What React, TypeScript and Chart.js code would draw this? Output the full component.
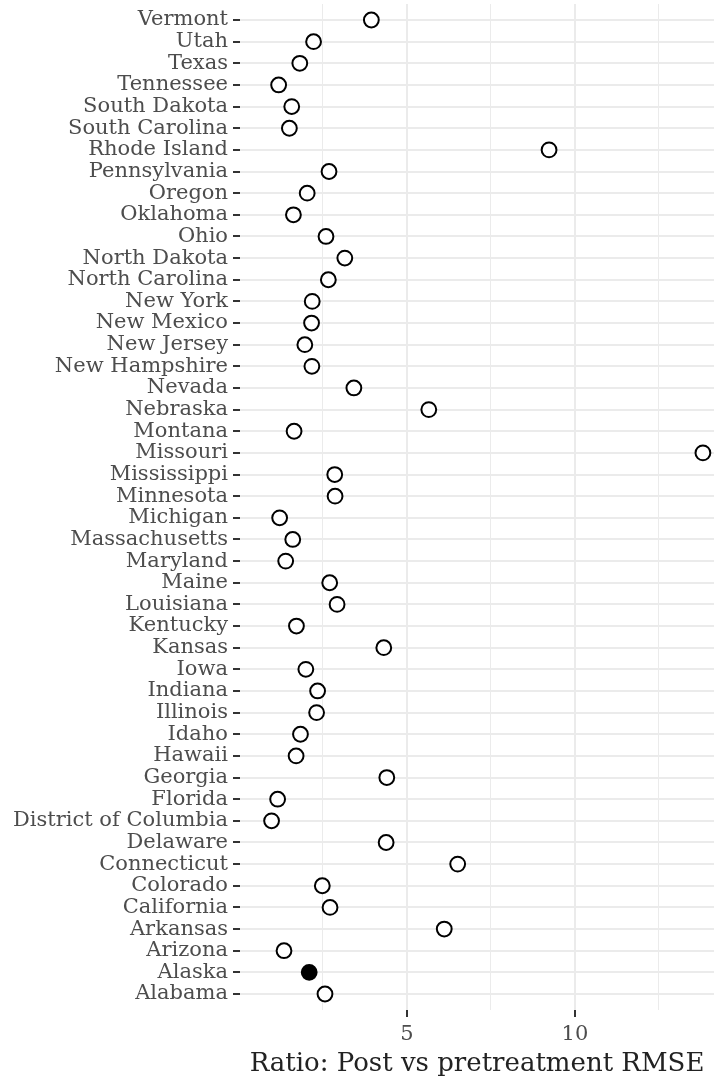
import React, { useEffect, useRef } from "react";
import { Chart, registerables } from "chart.js";

Chart.register(...registerables);

// Categories (bottom to top, as drawn)
const states: string[] = [
  "Alabama", "Alaska", "Arizona", "Arkansas", "California", "Colorado",
  "Connecticut", "Delaware", "District of Columbia", "Florida", "Georgia",
  "Hawaii", "Idaho", "Illinois", "Indiana", "Iowa", "Kansas", "Kentucky",
  "Louisiana", "Maine", "Maryland", "Massachusetts", "Michigan", "Minnesota",
  "Mississippi", "Missouri", "Montana", "Nebraska", "Nevada", "New Hampshire",
  "New Jersey", "New Mexico", "New York", "North Carolina", "North Dakota",
  "Ohio", "Oklahoma", "Oregon", "Pennsylvania", "Rhode Island",
  "South Carolina", "South Dakota", "Tennessee", "Texas", "Utah", "Vermont",
];

// Ratio: post vs pretreatment RMSE
const ratios: number[] = [
  2.56, 2.09, 1.34, 6.11, 2.71, 2.48,
  6.51, 4.38, 0.97, 1.15, 4.40,
  1.70, 1.83, 2.31, 2.34, 1.99, 4.31, 1.71,
  2.92, 2.70, 1.39, 1.60, 1.21, 2.86,
  2.85, 13.81, 1.64, 5.65, 3.42, 2.17,
  1.96, 2.16, 2.18, 2.66, 3.15,
  2.59, 1.62, 2.03, 2.68, 9.23,
  1.50, 1.57, 1.18, 1.81, 2.22, 3.94,
];

const treatedState = "Alaska";

const xTickValues: number[] = [2.5, 5, 7.5, 10, 12.5];
const xLabeledTicks: number[] = [5, 10];
const xTitle = "Ratio: Post vs pretreatment RMSE";

const FONT = "'DejaVu Serif', serif";

export default function App() {
  const ref = useRef<HTMLCanvasElement | null>(null);

  useEffect(() => {
    if (!ref.current) return;
    const points = states.map((s, i) => ({ x: ratios[i], y: i }));
    const chart = new Chart(ref.current, {
      type: "scatter",
      data: {
        datasets: [
          {
            data: points,
            pointRadius: 7.4,
            pointBorderWidth: 2,
            pointBorderColor: "#000000",
            pointBackgroundColor: states.map((s) =>
              s === treatedState ? "#000000" : "#ffffff"
            ),
            showLine: false,
            clip: false,
          },
        ],
      },
      options: {
        responsive: false,
        animation: false,
        layout: {
          autoPadding: false,
          padding: { top: 4, right: 0, bottom: 0, left: 0 },
        },
        plugins: {
          legend: { display: false },
          tooltip: { enabled: false },
        },
        scales: {
          x: {
            type: "linear",
            min: 0.03,
            max: 14.14,
            afterBuildTicks: (scale: any) => {
              scale.ticks = xTickValues.map((v) => ({ value: v }));
            },
            afterFit: (scale: any) => {
              scale.height = 73;
              scale.paddingLeft = 0;
              scale.paddingRight = 0;
            },
            border: { display: false },
            grid: {
              color: "#ebebeb",
              lineWidth: (ctx: any) =>
                ctx.tick && xLabeledTicks.includes(ctx.tick.value) ? 2 : 1,
              tickColor: (ctx: any) =>
                ctx.tick && xLabeledTicks.includes(ctx.tick.value)
                  ? "#333333"
                  : "rgba(0,0,0,0)",
              tickWidth: 2,
              tickLength: 7,
              drawTicks: true,
            },
            ticks: {
              autoSkip: false,
              maxRotation: 0,
              padding: 5,
              color: "#4d4d4d",
              font: { family: FONT, size: 21 },
              callback: (v: any) =>
                xLabeledTicks.includes(Number(v)) ? String(v) : "",
            },
            title: {
              display: true,
              text: xTitle,
              color: "#222222",
              font: { family: FONT, size: 26 },
              padding: { top: 0, bottom: 3 },
            },
          },
          y: {
            type: "linear",
            min: -0.74,
            max: states.length - 1 + 0.74,
            afterBuildTicks: (scale: any) => {
              scale.ticks = states.map((s, i) => ({ value: i }));
            },
            afterFit: (scale: any) => {
              scale.width = 240;
              scale.paddingTop = 0;
              scale.paddingBottom = 0;
            },
            border: { display: false },
            grid: {
              color: "#ebebeb",
              lineWidth: 2,
              tickColor: "#333333",
              tickWidth: 2,
              tickLength: 7,
              drawTicks: true,
            },
            ticks: {
              autoSkip: false,
              padding: 5,
              color: "#4d4d4d",
              font: { family: FONT, size: 21 },
              callback: (v: any) => states[Number(v)] ?? "",
            },
          },
        },
      },
    });
    return () => chart.destroy();
  }, []);

  return (
    <div
      style={{
        position: "fixed",
        left: 0,
        top: 0,
        width: 714,
        height: 1083,
        background: "#ffffff",
      }}
    >
      <canvas
        ref={ref}
        width={714}
        height={1083}
        style={{ display: "block", width: 714, height: 1083 }}
      />
    </div>
  );
}
